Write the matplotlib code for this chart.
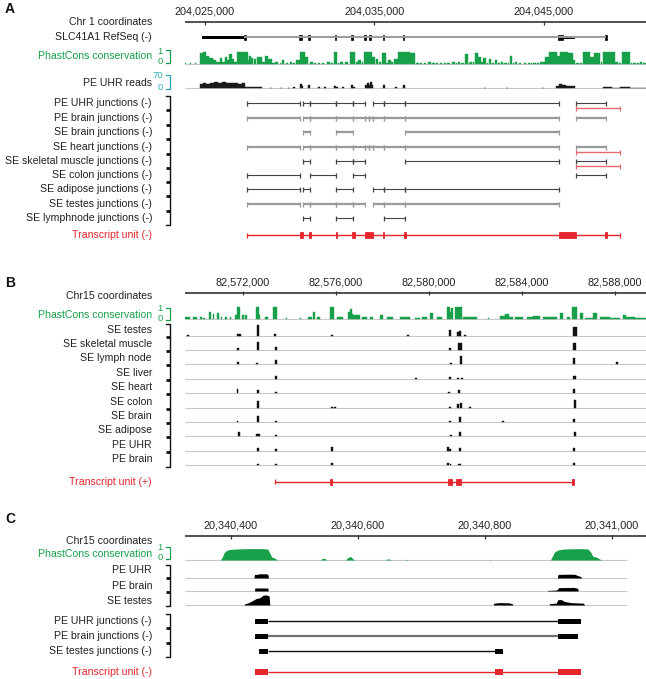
import matplotlib
matplotlib.use("Agg")
import matplotlib.pyplot as plt
from matplotlib import transforms

plt.rcParams['font.family'] = ['Liberation Sans', 'DejaVu Sans']

W, H = 646, 679
fig = plt.figure(figsize=(W / 100, H / 100), dpi=100)

GREEN = '#17a049'
TEAL = '#2aa8b8'
RED = '#e5262d'
GRAY = '#9a9a9a'
BASE = '#c8c8c8'
TXT = '#222222'
FS = 7.6
FS_TICK = 7.8

# ======================= DATA =======================
# ---- Panel A (positions in kb, chr1) ----
a_ticks = [204025, 204035, 204045]
a_xlim = (204023.82, 204051.02)
a_cons = [  # (start, end, phastCons score)
    (204023.76, 204023.88, 0.1), (204024.10, 204024.16, 0.05), (204024.40, 204024.46, 0.08),
    (204024.70, 204024.88, 0.9), (204024.88, 204025.06, 1.0),
    (204025.06, 204025.24, 0.7), (204025.24, 204025.47, 0.5), (204025.47, 204025.65, 0.3),
    (204025.65, 204025.89, 0.2), (204025.89, 204026.00, 0.5), (204026.00, 204026.12, 0.2),
    (204026.12, 204026.18, 0.15),
    (204026.18, 204026.30, 0.6), (204026.30, 204026.42, 0.3), (204026.42, 204026.59, 0.8),
    (204026.59, 204026.71, 0.4), (204026.71, 204026.89, 0.15), (204026.89, 204027.54, 1.0),
    (204027.54, 204027.60, 0.3), (204027.60, 204027.71, 0.7),
    (204027.71, 204027.83, 0.5), (204027.89, 204028.01, 0.4), (204028.07, 204028.36, 0.6),
    (204028.36, 204028.54, 0.15),
    (204028.54, 204028.72, 0.7), (204028.72, 204028.95, 0.4), (204028.95, 204029.13, 0.1),
    (204029.13, 204029.31, 0.2), (204029.40, 204029.48, 0.08),
    (204029.54, 204029.66, 0.3), (204029.75, 204029.90, 0.1), (204030.02, 204030.13, 0.2),
    (204030.20, 204030.30, 0.1), (204030.37, 204030.61, 0.3),
    (204030.61, 204030.90, 1.0), (204030.90, 204031.08, 0.6), (204031.20, 204031.37, 0.2),
    (204031.45, 204031.55, 0.08), (204031.67, 204031.79, 0.1), (204031.90, 204032.05, 0.1),
    (204032.20, 204032.38, 0.2), (204032.45, 204032.55, 0.1), (204032.61, 204032.79, 1.0),
    (204032.85, 204032.93, 0.1),
    (204032.97, 204033.14, 0.2), (204033.25, 204033.45, 0.15), (204033.56, 204033.85, 1.0),
    (204033.90, 204034.00, 0.15), (204034.03, 204034.20, 0.3), (204034.25, 204034.35, 0.15),
    (204034.38, 204034.85, 1.0), (204034.85, 204035.03, 0.6), (204035.09, 204035.21, 0.4),
    (204035.25, 204035.40, 0.15),
    (204035.44, 204035.68, 0.9), (204035.70, 204035.78, 0.1), (204035.80, 204035.97, 0.3),
    (204036.00, 204036.12, 0.15), (204036.15, 204036.39, 0.4),
    (204036.39, 204037.10, 1.0), (204037.10, 204037.39, 0.9), (204037.45, 204037.60, 0.08),
    (204037.69, 204037.80, 0.1), (204037.90, 204038.05, 0.06),
    (204038.16, 204038.33, 0.2), (204038.40, 204038.55, 0.06), (204038.63, 204038.75, 0.1),
    (204038.85, 204039.00, 0.08), (204039.10, 204039.22, 0.1), (204039.30, 204039.45, 0.08),
    (204039.57, 204039.75, 0.2), (204039.80, 204039.88, 0.08), (204039.93, 204040.05, 0.2),
    (204040.10, 204040.28, 0.1), (204040.34, 204040.52, 0.8), (204040.55, 204040.62, 0.1),
    (204040.64, 204040.75, 0.2), (204040.80, 204040.90, 0.15),
    (204040.93, 204041.11, 0.9), (204041.11, 204041.28, 0.6), (204041.30, 204041.38, 0.15),
    (204041.40, 204041.58, 0.5), (204041.62, 204041.72, 0.12), (204041.76, 204041.87, 0.4),
    (204041.95, 204042.05, 0.1), (204042.11, 204042.23, 0.3), (204042.30, 204042.40, 0.1),
    (204042.46, 204042.58, 0.2), (204042.65, 204042.80, 0.1), (204042.85, 204042.95, 0.12),
    (204043.00, 204043.11, 0.7), (204043.15, 204043.25, 0.1), (204043.29, 204043.41, 0.2),
    (204043.55, 204043.65, 0.06), (204043.80, 204043.95, 0.08),
    (204044.06, 204044.18, 0.1), (204044.22, 204044.30, 0.1), (204044.35, 204044.53, 0.1),
    (204044.60, 204044.70, 0.12), (204044.77, 204044.94, 0.2), (204044.97, 204045.04, 0.15),
    (204045.06, 204045.30, 0.6), (204045.30, 204045.77, 1.0), (204045.77, 204045.95, 0.7),
    (204045.95, 204046.42, 1.0), (204046.42, 204046.71, 0.9), (204046.71, 204046.83, 0.3),
    (204046.90, 204047.05, 0.08), (204047.10, 204047.22, 0.1),
    (204047.30, 204047.72, 1.0), (204047.72, 204047.95, 0.6), (204047.95, 204048.31, 0.9),
    (204048.35, 204048.45, 0.15),
    (204048.48, 204049.19, 1.0), (204049.19, 204049.37, 0.2), (204049.45, 204049.55, 0.08),
    (204049.60, 204050.08, 1.0), (204050.12, 204050.20, 0.06),
    (204050.25, 204050.43, 0.1), (204050.50, 204050.60, 0.08), (204050.67, 204050.78, 0.2),
    (204050.85, 204051.00, 0.1),
]
a_reads_max = 70
a_reads = [  # (start, end, read depth)
    (204024.70, 204024.88, 22), (204024.88, 204025.06, 28), (204025.06, 204025.30, 25),
    (204025.30, 204025.53, 30), (204025.53, 204025.77, 33), (204025.77, 204026.00, 28),
    (204026.00, 204026.24, 35), (204026.24, 204026.48, 30), (204026.48, 204026.71, 32),
    (204026.71, 204026.95, 27), (204026.95, 204027.18, 25), (204027.18, 204027.36, 30),
    (204027.36, 204028.36, 3), (204028.84, 204028.95, 2), (204029.43, 204029.54, 2),
    (204029.90, 204030.02, 2), (204030.19, 204030.31, 3), (204030.61, 204030.72, 22),
    (204030.72, 204030.78, 12), (204031.08, 204031.20, 18), (204031.67, 204031.79, 4),
    (204032.02, 204032.14, 4), (204032.61, 204032.73, 12), (204032.73, 204032.85, 5),
    (204033.08, 204033.20, 3), (204033.61, 204033.73, 16), (204033.73, 204033.85, 8),
    (204034.44, 204034.56, 20), (204034.56, 204034.68, 30), (204034.68, 204034.74, 15),
    (204034.74, 204034.85, 35), (204034.85, 204034.91, 18), (204035.50, 204035.62, 18),
    (204036.21, 204036.33, 8), (204036.68, 204036.80, 18), (204041.46, 204041.58, 2),
    (204042.76, 204042.88, 2), (204044.88, 204045.00, 2), (204045.71, 204045.89, 10),
    (204045.89, 204046.06, 22), (204046.06, 204046.30, 16), (204046.30, 204046.54, 12),
    (204046.54, 204046.83, 10), (204048.48, 204048.66, 5), (204048.66, 204049.01, 3),
    (204049.01, 204049.49, 2), (204049.49, 204050.08, 3), (204050.08, 204051.02, 2),
]
a_refseq_utr = (204024.82, 204027.30)
a_refseq_line = (204027.30, 204048.66)
a_refseq_exons = [(204027.30, 204027.42), (204030.55, 204030.70), (204031.08, 204031.20),
                  (204032.67, 204032.73), (204033.61, 204033.76), (204034.38, 204034.47),
                  (204034.68, 204034.77), (204035.50, 204035.56), (204036.68, 204036.76),
                  (204045.83, 204046.12), (204048.58, 204048.72)]
a_refseq_thick = (204046.12, 204046.83)

a_junction_labels = ['PE UHR junctions (-)', 'PE brain junctions (-)', 'SE brain junctions (-)',
                     'SE heart junctions (-)', 'SE skeletal muscle junctions (-)',
                     'SE colon junctions (-)', 'SE adipose junctions (-)',
                     'SE testes junctions (-)', 'SE lymphnode junctions (-)']
a_junction_style = ['dark', 'gray', 'gray', 'gray', 'dark', 'dark', 'dark', 'gray', 'dark']
a_junctions = [
    [(204027.48, 204030.61), (204030.78, 204031.20), (204031.20, 204032.73), (204032.73, 204033.73),
     (204033.73, 204034.44), (204034.91, 204035.56), (204035.56, 204036.80), (204036.80, 204045.89),
     (204046.89, 204048.66)],
    [(204027.48, 204030.61), (204030.78, 204031.20), (204031.20, 204032.73), (204032.73, 204033.73),
     (204033.73, 204034.44), (204034.44, 204034.68), (204034.68, 204034.91), (204034.91, 204035.56),
     (204035.56, 204036.80), (204036.80, 204045.89), (204046.89, 204048.66)],
    [(204030.78, 204031.20), (204032.73, 204033.73), (204036.80, 204045.89)],
    [(204027.48, 204030.61), (204030.78, 204031.20), (204031.20, 204032.73), (204032.73, 204033.73),
     (204033.73, 204034.44), (204034.44, 204034.68), (204034.68, 204034.91), (204034.91, 204035.56),
     (204035.56, 204036.80), (204036.80, 204045.89), (204046.89, 204048.66)],
    [(204030.78, 204031.20), (204032.73, 204033.73), (204033.73, 204034.44), (204036.80, 204045.89),
     (204046.89, 204048.66)],
    [(204027.48, 204030.61), (204031.20, 204032.73), (204033.73, 204034.44), (204046.89, 204048.66)],
    [(204027.48, 204030.61), (204030.78, 204031.20), (204032.73, 204033.73), (204034.91, 204035.56),
     (204035.56, 204036.80), (204036.80, 204045.89)],
    [(204027.48, 204030.61), (204030.78, 204031.20), (204031.20, 204032.73), (204032.73, 204033.73),
     (204033.73, 204034.44), (204034.91, 204035.56), (204035.56, 204036.80), (204036.80, 204045.89)],
    [(204030.78, 204031.20), (204032.73, 204033.73), (204035.56, 204036.80)],
]
a_junctions_alt = {0: [(204046.89, 204049.49)], 3: [(204046.89, 204049.49)], 4: [(204046.89, 204049.49)]}
a_tu_span = (204027.48, 204049.49)
a_tu_exons = [(204030.61, 204030.78), (204031.14, 204031.25), (204032.71, 204032.76),
              (204033.67, 204033.85), (204034.44, 204034.91), (204035.53, 204035.59),
              (204036.77, 204036.83), (204045.89, 204046.89), (204048.63, 204048.69)]

# ---- Panel B (positions in kb, chr15) ----
b_ticks = [82572, 82576, 82580, 82584, 82588]
b_xlim = (82569.51, 82589.33)
b_cons = [
    (82569.51, 82569.72, 0.2), (82569.85, 82570.02, 0.15), (82570.15, 82570.22, 0.2),
    (82570.28, 82570.37, 0.1), (82570.54, 82570.62, 0.6), (82570.71, 82570.77, 0.4),
    (82570.88, 82570.96, 0.5), (82571.05, 82571.11, 0.2), (82571.23, 82571.31, 0.15),
    (82571.44, 82571.50, 0.15), (82571.66, 82571.74, 0.3), (82571.74, 82571.87, 1.0),
    (82571.96, 82572.04, 0.3), (82572.09, 82572.17, 0.3), (82572.56, 82572.69, 1.0),
    (82572.69, 82572.75, 0.3), (82572.95, 82573.08, 0.15), (82573.29, 82573.46, 1.0),
    (82573.85, 82573.89, 0.1), (82574.45, 82574.49, 0.1), (82574.80, 82574.97, 0.2),
    (82575.01, 82575.10, 0.6), (82575.18, 82575.31, 0.2), (82575.74, 82575.91, 1.0),
    (82576.04, 82576.30, 0.15), (82576.52, 82576.60, 0.6), (82576.60, 82576.68, 0.8),
    (82576.68, 82576.73, 0.4), (82576.73, 82577.03, 0.3), (82577.12, 82577.33, 0.2),
    (82577.46, 82577.59, 0.2), (82577.89, 82578.02, 0.3), (82578.19, 82578.45, 0.15),
    (82578.75, 82579.18, 0.15), (82579.40, 82579.61, 0.1), (82579.70, 82579.91, 0.2),
    (82580.04, 82580.17, 0.5), (82580.34, 82580.56, 0.15), (82580.77, 82580.90, 1.0),
    (82580.90, 82580.96, 0.6), (82580.96, 82581.03, 0.9), (82581.12, 82581.42, 1.0),
    (82581.46, 82582.06, 0.15), (82582.54, 82582.58, 0.05), (82583.05, 82583.27, 0.25),
    (82583.27, 82583.44, 0.4), (82583.44, 82583.61, 0.2), (82583.70, 82584.04, 0.2),
    (82584.21, 82584.47, 0.2), (82584.47, 82584.77, 0.25), (82584.90, 82585.20, 0.2),
    (82585.20, 82585.50, 0.2), (82585.63, 82585.76, 0.5), (82585.93, 82586.06, 0.2),
    (82586.15, 82586.36, 1.0), (82586.49, 82586.62, 0.5), (82586.71, 82587.05, 0.1),
    (82587.05, 82587.22, 0.5), (82587.35, 82587.78, 0.15), (82587.78, 82588.21, 0.1),
    (82588.34, 82588.47, 0.35), (82588.47, 82588.86, 0.15), (82588.86, 82589.33, 0.1),
]
b_track_labels = ['SE testes', 'SE skeletal muscle', 'SE lymph node', 'SE liver', 'SE heart',
                  'SE colon', 'SE brain', 'SE adipose', 'PE UHR', 'PE brain']
b_signal = [  # (center, width, relative coverage)
    [(82569.63, 0.10, 0.1), (82571.78, 0.08, 0.15), (82571.87, 0.08, 0.15), (82572.65, 0.12, 1.0),
     (82573.38, 0.10, 0.2), (82575.83, 0.10, 0.1), (82579.10, 0.08, 0.1), (82580.90, 0.12, 0.55),
     (82581.25, 0.10, 0.4), (82581.33, 0.08, 0.45), (82581.55, 0.06, 0.1), (82586.28, 0.15, 0.85)],
    [(82571.78, 0.08, 0.15), (82572.65, 0.10, 0.7), (82573.42, 0.08, 0.3), (82580.90, 0.08, 0.2),
     (82581.33, 0.14, 0.6), (82586.26, 0.10, 0.6)],
    [(82571.78, 0.08, 0.15), (82572.60, 0.08, 0.1), (82573.42, 0.08, 0.4), (82580.94, 0.08, 0.1),
     (82581.37, 0.10, 0.75), (82586.23, 0.12, 0.55), (82588.08, 0.08, 0.2)],
    [(82573.42, 0.10, 0.3), (82579.44, 0.06, 0.1), (82580.90, 0.08, 0.15), (82581.25, 0.05, 0.12),
     (82581.42, 0.05, 0.12), (82586.26, 0.10, 0.25)],
    [(82571.78, 0.06, 0.4), (82572.65, 0.05, 0.25), (82573.42, 0.05, 0.1), (82580.86, 0.08, 0.1),
     (82581.29, 0.10, 0.25), (82586.23, 0.10, 0.4)],
    [(82572.65, 0.08, 0.6), (82575.83, 0.06, 0.1), (82575.96, 0.06, 0.1), (82580.90, 0.06, 0.12),
     (82581.25, 0.08, 0.35), (82581.37, 0.08, 0.45), (82581.76, 0.05, 0.1), (82586.28, 0.12, 0.7)],
    [(82571.78, 0.05, 0.08), (82572.65, 0.08, 0.5), (82573.42, 0.05, 0.1), (82580.90, 0.05, 0.1),
     (82581.33, 0.12, 0.45), (82583.18, 0.05, 0.08), (82586.23, 0.10, 0.3)],
    [(82571.83, 0.08, 0.35), (82572.60, 0.06, 0.2), (82572.69, 0.06, 0.2), (82573.42, 0.05, 0.1),
     (82580.94, 0.06, 0.1), (82581.33, 0.12, 0.4), (82586.28, 0.10, 0.35)],
    [(82572.65, 0.08, 0.3), (82573.42, 0.05, 0.2), (82575.83, 0.10, 0.4), (82580.82, 0.06, 0.4),
     (82580.92, 0.08, 0.15), (82581.33, 0.12, 0.3), (82586.23, 0.10, 0.25)],
    [(82572.65, 0.05, 0.08), (82573.42, 0.05, 0.1), (82575.83, 0.06, 0.2), (82580.82, 0.06, 0.2),
     (82580.94, 0.05, 0.1), (82581.29, 0.05, 0.1), (82581.37, 0.05, 0.1), (82586.23, 0.10, 0.2)],
]
b_tu_span = (82573.38, 82586.19)
b_tu_exons = [(82575.75, 82575.81), (82580.82, 82580.99), (82581.16, 82581.37), (82586.16, 82586.22)]

# ---- Panel C (positions in bp, chr15) ----
c_ticks = [20340400, 20340600, 20340800, 20341000]
c_xlim = (20340327.5, 20341053.6)
c_track_end = 20341024
c_cons = [
    (20340383, 0), (20340386, 0.2), (20340389, 0.6), (20340393, 0.8), (20340398, 0.88),
    (20340410, 0.92), (20340430, 0.95), (20340450, 0.95), (20340458, 0.9), (20340461, 0.6),
    (20340464, 0.25), (20340469, 0.15), (20340472, 0.05), (20340474, 0),
    (20340541, 0), (20340544, 0.15), (20340549, 0.1), (20340551, 0),
    (20340580, 0), (20340584, 0.2), (20340588, 0.3), (20340592, 0.1), (20340595, 0),
    (20340643, 0), (20340645, 0.08), (20340650, 0.08), (20340652, 0),
    (20340674, 0), (20340676, 0.07), (20340678, 0),
    (20340806, 0), (20340808, 0.05), (20340810, 0),
    (20340903, 0), (20340906, 0.3), (20340910, 0.7), (20340916, 0.85), (20340925, 0.92),
    (20340950, 0.95), (20340962, 0.92), (20340966, 0.7), (20340970, 0.3), (20340975, 0.25),
    (20340980, 0.1), (20340984, 0),
]
c_track_labels = ['PE UHR', 'PE brain', 'SE testes']
c_coverage = [
    [(20340436, 0), (20340437, 0.3), (20340441, 0.3), (20340444, 0.35), (20340456, 0.35),
     (20340458, 0.3), (20340459, 0), (20340914, 0), (20340915, 0.3), (20340935, 0.32),
     (20340942, 0.3), (20340946, 0.2), (20340951, 0.12), (20340952, 0)],
    [(20340437, 0), (20340437.5, 0.25), (20340458, 0.25), (20340458.5, 0), (20340898, 0),
     (20340899, 0.05), (20340913, 0.08), (20340916, 0.28), (20340940, 0.3), (20340946, 0.22),
     (20340947, 0)],
    [(20340420, 0), (20340422, 0.1), (20340428, 0.2), (20340435, 0.4), (20340440, 0.55),
     (20340445, 0.6), (20340450, 0.8), (20340455, 0.85), (20340460, 0.75), (20340461, 0),
     (20340813, 0), (20340814, 0.15), (20340822, 0.2), (20340838, 0.18), (20340843, 0.1),
     (20340844, 0), (20340901, 0), (20340902, 0.12), (20340912, 0.15), (20340915, 0.45),
     (20340920, 0.45), (20340925, 0.3), (20340935, 0.2), (20340955, 0.15), (20340957, 0)],
]
c_junction_labels = ['PE UHR junctions (-)', 'PE brain junctions (-)', 'SE testes junctions (-)']
c_junction_blocks = [
    [(20340438, 20340458), (20340915, 20340951)],
    [(20340437, 20340458), (20340915, 20340946)],
    [(20340444, 20340458), (20340816, 20340828)],
]
c_junction_line = ['#111111', '#707070', '#111111']
c_tu_blocks = [(20340437, 20340458), (20340816, 20340828), (20340915, 20340951)]

# ======================= LAYOUT HELPERS =======================
LABEL_X = 152 / W
SCALE_X = 163 / W
BR_X = 170 / W
BR_L = 166 / W


def make_axes(y0, y1, xlim):
    ax = fig.add_axes([185 / W, 1 - y1 / H, 461 / W, (y1 - y0) / H])
    ax.set_xlim(*xlim)
    ax.set_ylim(y1, y0)
    ax.set_axis_off()
    return ax


def blend(ax):
    return transforms.blended_transform_factory(fig.transFigure, ax.transData)


def label(ax, y, text, color=TXT, size=FS):
    ax.text(LABEL_X, y, text, transform=blend(ax), ha='right', va='center',
            fontsize=size, color=color)


def scale_label(ax, y_top, y_bot, top_txt, color):
    tr = blend(ax)
    ax.text(SCALE_X, y_top, top_txt, transform=tr, ha='right', va='center', fontsize=6.8, color=color)
    ax.text(SCALE_X, y_bot, '0', transform=tr, ha='right', va='center', fontsize=6.8, color=color)
    ax.plot([BR_L, BR_X, BR_X, BR_L], [y_top - 1, y_top - 1, y_bot + 1, y_bot + 1],
            transform=tr, color=color, lw=0.9, clip_on=False)


def big_bracket(ax, y_top, y_bot, ticks):
    tr = blend(ax)
    ax.plot([BR_L, BR_X, BR_X, BR_L], [y_top, y_top, y_bot, y_bot],
            transform=tr, color='#111111', lw=1.0, clip_on=False)
    for t in ticks:
        ax.plot([BR_L, BR_X], [t, t], transform=tr, color='#111111', lw=2.0,
                solid_capstyle='butt', clip_on=False)


def coord_axis(ax, y, ticks, xlim, fmt):
    ax.hlines(y, xlim[0], xlim[1], color='#333333', lw=1.2)
    ax.vlines(ticks, y - 1.5, y + 2.5, color='#333333', lw=0.9)
    for t in ticks:
        ax.text(t, y - 10, fmt(t), ha='center', va='center', fontsize=FS_TICK, color=TXT)


def bars(ax, segs, base, height, color, scale=1.0):
    xs = [s for s, e, v in segs]
    ws = [e - s for s, e, v in segs]
    hs = [-v / scale * height for s, e, v in segs]
    ax.bar(xs, hs, width=ws, bottom=base, align='edge', color=color,
           edgecolor=color, linewidth=0.3)


def baseline(ax, y, x0, x1):
    ax.hlines(y, x0, x1, color=BASE, lw=0.8, zorder=0)


def junction_row(ax, y, pairs, color, lw):
    for s, e in pairs:
        ax.hlines(y, s, e, color=color, lw=lw)
        ax.vlines([s, e], y - 2.5, y + 2.5, color=color, lw=0.9)


def transcript(ax, y, span, exons, tall=6):
    ax.hlines(y, span[0], span[1], color=RED, lw=1.0)
    ax.vlines(span, y - 2.5, y + 2.5, color=RED, lw=0.9)
    for s, e in exons:
        ax.add_patch(plt.Rectangle((s, y - tall / 2), e - s, tall, color=RED, lw=0.6))


def panel_letter(y, t):
    fig.text(5 / W, 1 - y / H, t, fontsize=10, fontweight='bold', ha='left', va='center', color='#111111')


# ======================= PANEL A =======================
axA = make_axes(0, 248, a_xlim)
panel_letter(9, 'A')
coord_axis(axA, 22, a_ticks, a_xlim, lambda t: f"{int(round(t * 1000)):,}")
label(axA, 22, 'Chr 1 coordinates')

# RefSeq
label(axA, 37, 'SLC41A1 RefSeq (-)')
axA.hlines(37, *a_refseq_line, color=GRAY, lw=1.4)
axA.add_patch(plt.Rectangle((a_refseq_utr[0], 35.5), a_refseq_utr[1] - a_refseq_utr[0], 3, color='black', lw=0))
axA.add_patch(plt.Rectangle((a_refseq_thick[0], 35.5), a_refseq_thick[1] - a_refseq_thick[0], 3, color='black', lw=0))
for s, e in a_refseq_exons:
    axA.add_patch(plt.Rectangle((s, 34.5), e - s, 5, color='black', lw=0.5))

# PhastCons
label(axA, 56, 'PhastCons conservation', color=GREEN)
scale_label(axA, 51, 62, '1', GREEN)
baseline(axA, 64, *a_xlim)
bars(axA, a_cons, 64, 12, GREEN)

# Reads
label(axA, 83, 'PE UHR reads')
scale_label(axA, 76, 88, str(a_reads_max), TEAL)
baseline(axA, 88, *a_xlim)
bars(axA, a_reads, 88, 12, '#1a1a1a', scale=a_reads_max)

# Junctions
a_rows_y = [103, 118, 132, 147, 161, 175, 189, 204, 218]
for lab, y, pairs, sty in zip(a_junction_labels, a_rows_y, a_junctions, a_junction_style):
    label(axA, y, lab)
    if sty == 'dark':
        junction_row(axA, y, pairs, '#444444', 0.8)
    else:
        junction_row(axA, y, pairs, '#999999', 1.6)
for idx, pairs in a_junctions_alt.items():
    junction_row(axA, a_rows_y[idx] + 5, pairs, '#e86a6e', 1.0)
big_bracket(axA, 96, 225, [y + 7 for y in a_rows_y[:-1]])

label(axA, 235, 'Transcript unit (-)', color=RED)
transcript(axA, 235, a_tu_span, a_tu_exons)

# ======================= PANEL B =======================
axB = make_axes(248, 495, b_xlim)
panel_letter(283, 'B')
coord_axis(axB, 293, b_ticks, b_xlim, lambda t: f"{int(round(t * 1000)):,}")
label(axB, 296, 'Chr15 coordinates')

label(axB, 315, 'PhastCons conservation', color=GREEN)
scale_label(axB, 309, 319, '1', GREEN)
baseline(axB, 319, *b_xlim)
bars(axB, b_cons, 319, 12, GREEN)

b_rows_y = [330, 344, 358, 373, 387, 402, 416, 430, 445, 459]
for lab, y, sig in zip(b_track_labels, b_rows_y, b_signal):
    label(axB, y, lab)
    base = y + 6
    baseline(axB, base, *b_xlim)
    segs = [(c - w / 2, c + w / 2, v) for c, w, v in sig]
    bars(axB, segs, base, 11, '#111111')
big_bracket(axB, 324, 467, [y + 7 for y in b_rows_y[:-1]])

label(axB, 482, 'Transcript unit (+)', color=RED)
transcript(axB, 482, b_tu_span, b_tu_exons)

# ======================= PANEL C =======================
axC = make_axes(495, 679, c_xlim)
panel_letter(519, 'C')
coord_axis(axC, 536, c_ticks, c_xlim, lambda t: f"{t:,}")
label(axC, 541, 'Chr15 coordinates')

label(axC, 554, 'PhastCons conservation', color=GREEN)
scale_label(axC, 548, 558, '1', GREEN)
baseline(axC, 560, c_xlim[0], c_track_end)
cx = [p[0] for p in c_cons]
cy = [560 - p[1] * 12 for p in c_cons]
axC.fill_between(cx, 560, cy, color=GREEN, lw=0)

c_rows_y = [570, 586, 601]
c_bases = [578, 591, 605]
for lab, y, base, cov in zip(c_track_labels, c_rows_y, c_bases, c_coverage):
    label(axC, y, lab)
    baseline(axC, base, c_xlim[0], c_track_end)
    xs = [p[0] for p in cov]
    ys = [base - p[1] * 12 for p in cov]
    axC.fill_between(xs, base, ys, color='black', lw=0)
big_bracket(axC, 565, 606, [578, 592])

c_jy = [621, 636, 651]
for lab, y, blocks, lc in zip(c_junction_labels, c_jy, c_junction_blocks, c_junction_line):
    label(axC, y, lab)
    axC.hlines(y, blocks[0][1], blocks[-1][0], color=lc, lw=1.0 if lc != '#707070' else 1.6)
    for s, e in blocks:
        axC.add_patch(plt.Rectangle((s, y - 2.5), e - s, 5, color='black', lw=0))
big_bracket(axC, 614, 657, [628, 643])

label(axC, 672, 'Transcript unit (-)', color=RED)
axC.hlines(672, c_tu_blocks[0][1], c_tu_blocks[-1][0], color=RED, lw=1.0)
for s, e in c_tu_blocks:
    axC.add_patch(plt.Rectangle((s, 669), e - s, 6, color=RED, lw=0))

fig.savefig('out.png', dpi=100, facecolor='white')
